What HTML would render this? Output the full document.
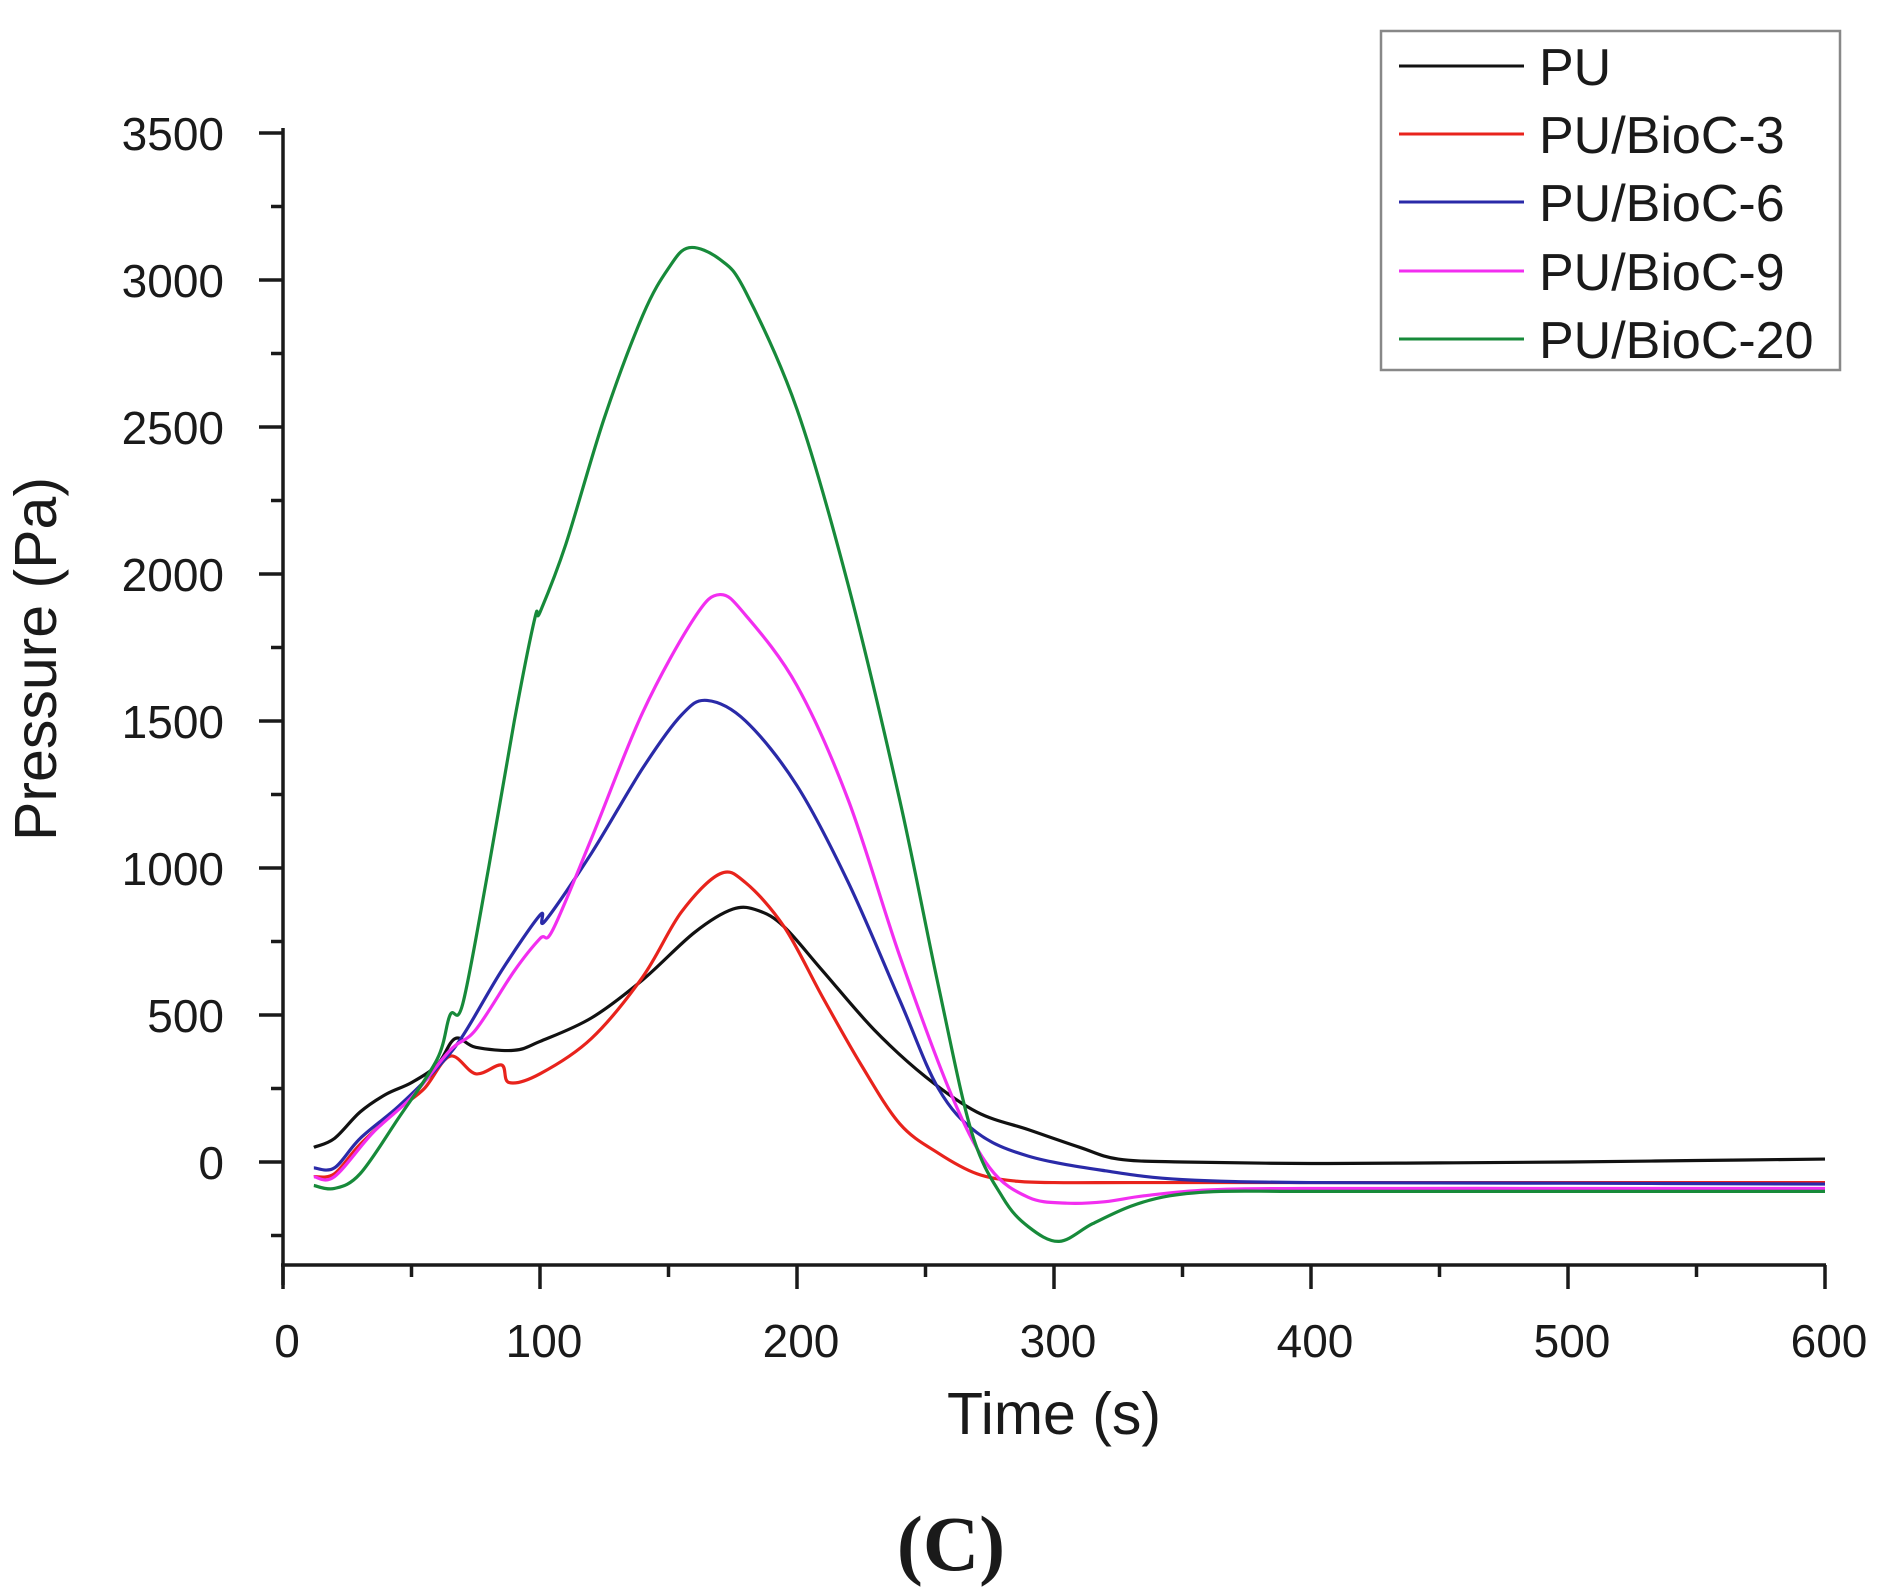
<!DOCTYPE html>
<html><head><meta charset="utf-8"><style>
html,body{margin:0;padding:0;background:#fff;}
svg{display:block;}
text{font-family:"Liberation Sans",sans-serif;fill:#1a1a1a;}
</style></head><body>
<svg id="s" width="1879" height="1593" viewBox="0 0 1879 1593" xmlns="http://www.w3.org/2000/svg">
<g stroke="#1a1a1a" stroke-width="3.5" fill="none">
<line x1="283" y1="128" x2="283" y2="1285"/>
<line x1="281" y1="1265" x2="1826" y2="1265"/>
</g>
<g id="ticks" stroke="#1a1a1a" stroke-width="3.5"></g>
<g id="labels" font-size="46" text-anchor="end"></g>
<g id="xlabels" font-size="46" text-anchor="middle"></g>
<text x="1054" y="1434" font-size="59" text-anchor="middle">Time (s)</text>
<text transform="translate(56,659) rotate(-90)" font-size="59" text-anchor="middle">Pressure (Pa)</text>
<text x="951" y="1570" font-size="78" font-weight="bold" text-anchor="middle" style="font-family:'Liberation Serif',serif">(C)</text>
<g id="series" fill="none" stroke-width="3.2" stroke-linejoin="round"></g>
<rect x="1381" y="31" width="459" height="339" fill="#fff" stroke="#888" stroke-width="2.5"/>
<g id="legend" font-size="52"></g>
</svg>
<script>
var NS="http://www.w3.org/2000/svg";
function X(t){return 283+2.57*t;}
function Y(p){return 1162-0.294*p;}
function el(tag,attrs,parent,txt){var e=document.createElementNS(NS,tag);for(var k in attrs)e.setAttribute(k,attrs[k]);if(txt!==undefined)e.textContent=txt;document.getElementById(parent).appendChild(e);return e;}
for(var p=-250;p<=3500;p+=250){var y=Y(p);var major=(p%500===0);el("line",{x1:major?259:271,y1:y,x2:283,y2:y},"ticks");if(major)el("text",{x:224,y:y+17},"labels",p);}
for(var t=0;t<=600;t+=50){var x=X(t);var major=(t%100===0);el("line",{x1:x,y1:1265,x2:x,y2:major?1289:1277},"ticks");if(major)el("text",{x:x+4,y:1357},"xlabels",t);}
var S=[
["#111",[[12,50],[20,80],[30,170],[40,230],[50,270],[60,330],[67,420],[75,390],[90,380],[100,410],[120,490],[140,620],[160,780],[175,860],[185,855],[195,800],[210,650],[230,450],[250,290],[270,170],[290,110],[310,50],[325,10],[350,0],[400,-5],[450,-3],[500,0],[550,5],[600,10]]],
["#e8231c",[[12,-50],[20,-40],[30,60],[45,180],[55,250],[65,360],[75,300],[85,330],[88,270],[100,300],[120,420],[140,630],[155,850],[170,980],[180,950],[195,800],[210,560],[225,330],[240,130],[255,30],[270,-40],[285,-65],[300,-70],[330,-70],[380,-70],[450,-70],[600,-70]]],
["#2a2aa8",[[12,-20],[20,-20],[30,80],[45,190],[60,320],[70,430],[85,650],[100,840],[102,820],[120,1050],[140,1340],[155,1520],[165,1570],[180,1500],[200,1280],[220,950],[240,550],[255,250],[270,100],[290,20],[320,-30],[350,-60],[400,-70],[500,-72],[600,-75]]],
["#f22ef0",[[12,-50],[20,-50],[35,100],[50,220],[65,380],[75,450],[90,650],[100,760],[105,790],[120,1100],[140,1530],[160,1850],[170,1930],[180,1860],[200,1620],[220,1230],[240,700],[260,230],[275,-20],[290,-120],[305,-140],[320,-135],[335,-115],[360,-95],[400,-90],[500,-90],[600,-90]]],
["#178a3a",[[12,-80],[20,-90],[30,-40],[45,150],[60,350],[65,500],[70,540],[80,1000],[90,1500],[98,1850],[100,1870],[110,2100],[125,2530],[140,2880],[150,3040],[158,3110],[170,3070],[180,2960],[200,2560],[220,1960],[240,1230],[255,600],[268,100],[280,-120],[290,-220],[302,-270],[315,-210],[330,-150],[345,-115],[365,-100],[400,-100],[500,-100],[600,-100]]]
];
S.forEach(function(s){var pts=s[1].map(function(q){return [X(q[0]),Y(q[1])];});var d="M"+pts[0][0]+","+pts[0][1];
for(var i=0;i<pts.length-1;i++){var p0=pts[Math.max(i-1,0)],p1=pts[i],p2=pts[i+1],p3=pts[Math.min(i+2,pts.length-1)];
d+=" C"+(p1[0]+(p2[0]-p0[0])/6)+","+(p1[1]+(p2[1]-p0[1])/6)+" "+(p2[0]-(p3[0]-p1[0])/6)+","+(p2[1]-(p3[1]-p1[1])/6)+" "+p2[0]+","+p2[1];}
el("path",{d:d,stroke:s[0]},"series");});
var names=["PU","PU/BioC-3","PU/BioC-6","PU/BioC-9","PU/BioC-20"];
var ly=[66,134,202,271,339];
names.forEach(function(n,i){el("line",{x1:1399,y1:ly[i],x2:1524,y2:ly[i],stroke:S[i][0],"stroke-width":3},"legend");el("text",{x:1539,y:ly[i]+19},"legend",n);});
</script>
</body></html>
